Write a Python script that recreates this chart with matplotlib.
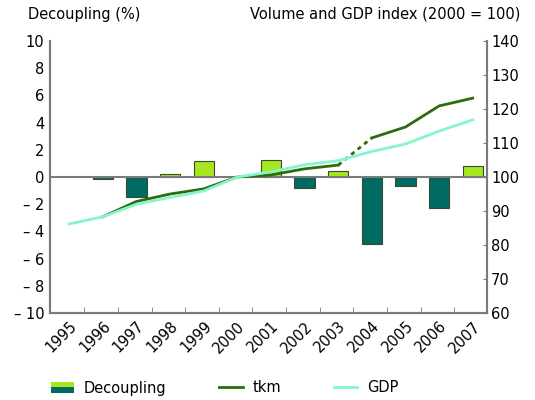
import matplotlib
matplotlib.use("Agg")
import matplotlib.pyplot as plt
import matplotlib.patches as patches
from matplotlib.legend_handler import HandlerBase
from matplotlib.lines import Line2D

# data
years = [1995, 1996, 1997, 1998, 1999, 2000, 2001, 2002, 2003, 2004, 2005, 2006, 2007]
decoupling = [0.0, -0.12, -1.5, 0.2, 1.2, 0.0, 1.25, -0.8, 0.45, -4.9, -0.65, -2.3, 0.8]
tkm_years = [1996, 1997, 1998, 1999, 2000, 2001, 2002, 2003, 2004, 2005, 2006, 2007]
tkm = [88.3, 92.8, 95.0, 96.5, 100.0, 100.6, 102.4, 103.5, 111.5, 114.7, 120.9, 123.2]
gdp = [86.2, 88.3, 92.0, 94.0, 95.9, 100.0, 101.5, 103.6, 104.8, 107.5, 109.7, 113.5, 116.8]
left_ticks = [10, 8, 6, 4, 2, 0, -2, -4, -6, -8, -10]
right_ticks = [60, 70, 80, 90, 100, 110, 120, 130, 140]

pos_col = '#a8e620'
neg_col = '#006b62'
edge_col = '#3a4a30'
tkm_col = '#2e6a10'
gdp_col = '#86f5cc'
axis_col = '#7a7a7a'
fs = 10.5

plt.rcParams['font.family'] = 'DejaVu Sans'

fig = plt.figure(figsize=(5.35, 4.0), dpi=100)
ax = fig.add_axes([0.0935, 0.2175, 0.8165, 0.68])
ax2 = ax.twinx()

# bars
for yr, v in zip(years, decoupling):
    if v == 0:
        continue
    c = pos_col if v > 0 else neg_col
    ax.bar(yr, v, width=0.6, color=c, edgecolor=edge_col, linewidth=0.8, zorder=2)
ax.axhline(0, color=axis_col, linewidth=1.5, zorder=3)

ax.set_xlim(1994.43, 2007.42)
ax.set_ylim(-10, 10)
ax.set_yticks(left_ticks)
ax.set_yticklabels([str(t) if t >= 0 else '\u2013 ' + str(-t) for t in left_ticks], fontsize=fs)
ax.tick_params(axis='y', length=0, pad=4)

ax.set_xticks(years)
ax.set_xticklabels([str(y) for y in years], rotation=45, ha='right', va='top',
                   rotation_mode='anchor', fontsize=fs)
ax.tick_params(axis='x', which='major', length=0, pad=4)
ax.set_xticks([y + 0.45 for y in years[:-1]], minor=True)
ax.tick_params(axis='x', which='minor', direction='in', length=4, color=axis_col)

# lines on the index axis
i03 = tkm_years.index(2003)
ax2.plot(tkm_years[:i03 + 1], tkm[:i03 + 1], color=tkm_col, linewidth=2)
ax2.plot(tkm_years[i03:i03 + 2], tkm[i03:i03 + 2], color=tkm_col, linewidth=2, linestyle=(0, (1.5, 1.5)))
ax2.plot(tkm_years[i03 + 1:], tkm[i03 + 1:], color=tkm_col, linewidth=2)
ax2.plot(years, gdp, color=gdp_col, linewidth=2)
ax2.set_ylim(60, 140)
ax2.set_yticks(right_ticks)
ax2.set_yticklabels([str(t) for t in right_ticks], fontsize=fs)
ax2.tick_params(axis='y', direction='in', length=3, color=axis_col, pad=3)

for a in (ax, ax2):
    a.spines['top'].set_visible(False)
    for s in ('left', 'right', 'bottom'):
        a.spines[s].set_color(axis_col)
        a.spines[s].set_linewidth(1.5)

fig.text(0.052, 0.965, 'Decoupling (%)', fontsize=fs, va='center', ha='left')
fig.text(0.972, 0.965, 'Volume and GDP index (2000 = 100)', fontsize=fs, va='center', ha='right')


class SplitPatch(HandlerBase):
    def create_artists(self, legend, orig, xd, yd, w, h, fontsize, trans):
        top = patches.Rectangle((xd, yd + h / 2), w, h / 2, facecolor=pos_col,
                                edgecolor='none', transform=trans)
        bot = patches.Rectangle((xd, yd), w, h / 2, facecolor=neg_col,
                                edgecolor='none', transform=trans)
        return [top, bot]


split = patches.Rectangle((0, 0), 1, 1)
handles = [split, Line2D([], [], color=tkm_col, linewidth=2), Line2D([], [], color=gdp_col, linewidth=2)]
fig.legend(handles, ['Decoupling', 'tkm', 'GDP'], handler_map={split: SplitPatch()},
           loc='center left', bbox_to_anchor=(0.07, 0.03), ncol=3, frameon=False,
           fontsize=fs, handlelength=1.6, columnspacing=3.6, handletextpad=0.7)

fig.savefig('out.png', dpi=100)
